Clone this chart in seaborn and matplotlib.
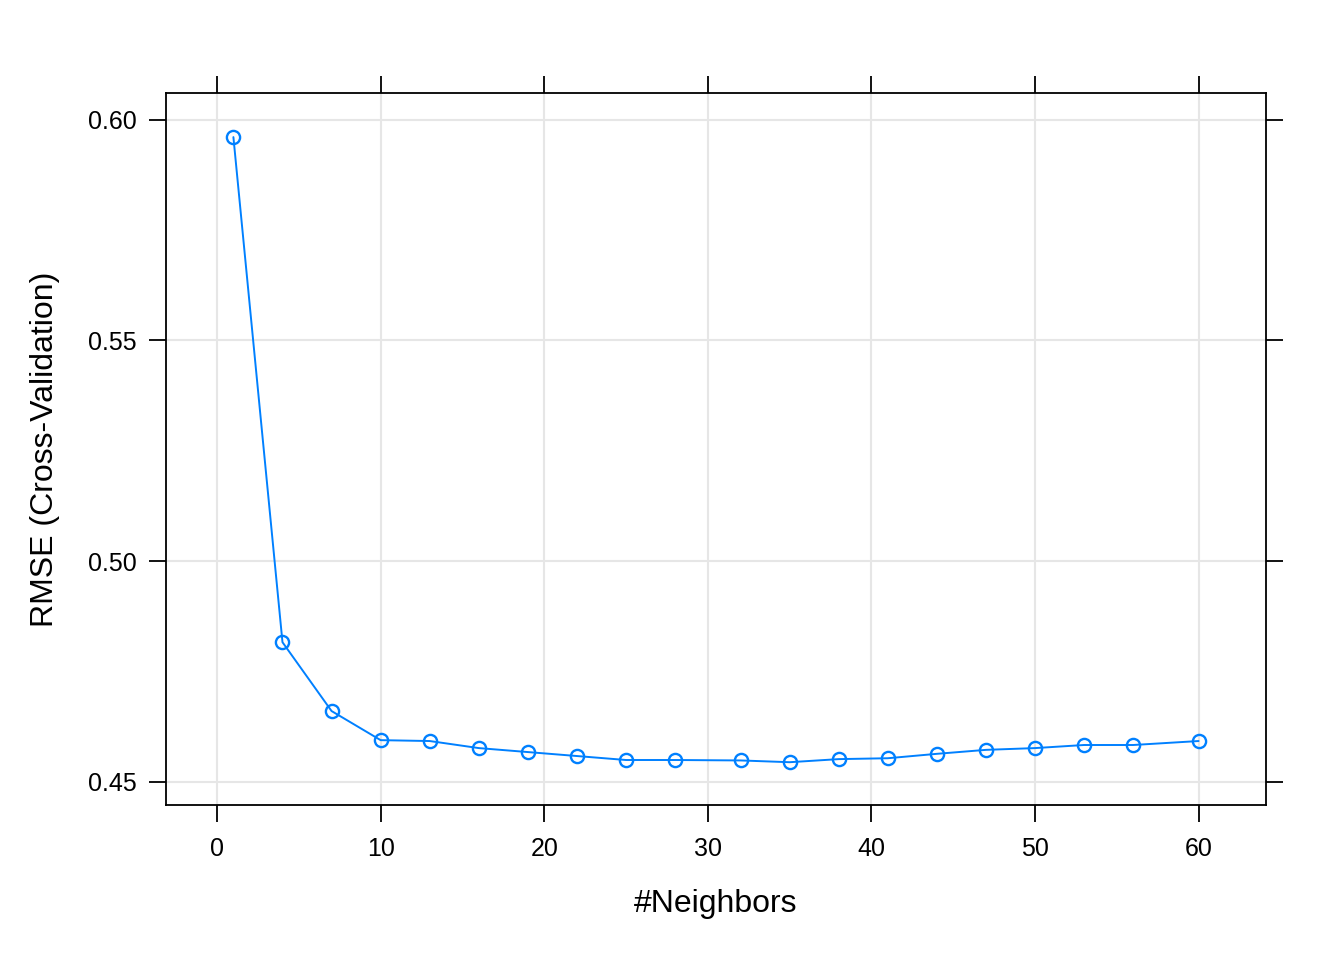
import matplotlib
matplotlib.use("Agg")
import matplotlib.pyplot as plt
import numpy as np
import pandas as pd
import seaborn as sns

# values
neighbors = [1, 4, 7, 10, 13, 16, 19, 22, 25, 28, 32, 35, 38, 41, 44, 47, 50, 53, 56, 60]
rmse = [0.5961, 0.4816, 0.4660, 0.4594, 0.4592, 0.4576, 0.4567, 0.4558, 0.4549, 0.4549,
        0.4548, 0.4544, 0.4551, 0.4553, 0.4563, 0.4572, 0.4576, 0.4583, 0.4583, 0.4592]
x_ticks = [0, 10, 20, 30, 40, 50, 60]
y_ticks = [0.45, 0.50, 0.55, 0.60]

df = pd.DataFrame({"neighbors": neighbors, "rmse": rmse})

sns.set_theme(style="white")
plt.rcParams["font.family"] = ["Liberation Sans", "DejaVu Sans"]
plt.rcParams["text.color"] = "black"
plt.rcParams["axes.labelcolor"] = "black"

fig = plt.figure(figsize=(13.44, 9.6), dpi=100)
ax = fig.add_axes([166 / 1344, 1 - 805 / 960, 1100 / 1344, 712 / 960])

for x in x_ticks:
    ax.axvline(x, color="#E6E6E6", lw=1.5, zorder=0)
for y in y_ticks:
    ax.axhline(y, color="#E6E6E6", lw=1.5, zorder=0)

sns.lineplot(data=df, x="neighbors", y="rmse", ax=ax, color="#0080FF", lw=1.4,
             marker="o", markersize=9.5, markerfacecolor="none",
             markeredgecolor="#0080FF", markeredgewidth=1.7)

ax.set_xlim(-3.12, 64.12)
ax.set_ylim(0.4447, 0.6061)
ax.set_xticks(x_ticks)
ax.set_yticks(y_ticks)
ax.set_xticklabels([str(v) for v in x_ticks])
ax.set_yticklabels([f"{v:.2f}" for v in y_ticks])

for s in ax.spines.values():
    s.set_visible(True)
    s.set_color("black")
    s.set_linewidth(1.3)

ax.tick_params(axis="both", which="both", direction="out", length=12, width=1.3,
               color="black", labelcolor="black", labelsize=18, pad=9,
               top=True, right=True, bottom=True, left=True,
               labeltop=False, labelright=False)
ax.tick_params(axis="x", pad=11)

ax.set_xlabel("#Neighbors", fontsize=23, labelpad=20)
ax.set_ylabel("RMSE (Cross-Validation)", fontsize=23, labelpad=20)

fig.savefig("out.png", dpi=100)
